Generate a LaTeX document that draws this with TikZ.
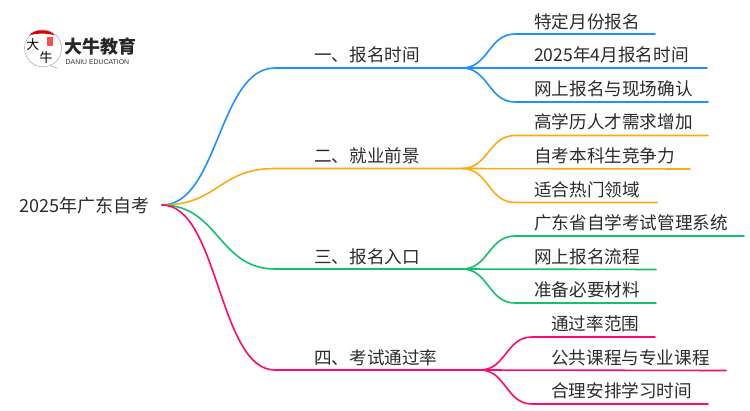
\documentclass[tikz,border=0pt]{standalone}
\usepackage{fontspec}
\setmainfont{Noto Sans CJK SC}
\newfontfamily\latinlogo{Liberation Sans}
\usetikzlibrary{calc}
\definecolor{cblue}{HTML}{1E90FF}
\definecolor{corange}{HTML}{FAAB14}
\definecolor{cgreen}{HTML}{14C06E}
\definecolor{cpink}{HTML}{FF0A6C}
\definecolor{ctext}{HTML}{2B2B2B}
\tikzset{
  lbl/.style={anchor=base west,inner sep=0pt,text=ctext,font=\fontsize{17.6pt}{20pt}\selectfont},
  rootlbl/.style={lbl,font=\fontsize{18pt}{20pt}\selectfont},
  conn/.style={line width=1.6pt,line cap=round},
  logotxt/.style={inner sep=0pt,text=black,font=\fontsize{13pt}{13pt}\selectfont},
  cur/.style={to path={.. controls ($(\tikztostart)!0.5!(\tikztostart -| \tikztotarget)$) and ($(\tikztotarget)!0.5!(\tikztotarget -| \tikztostart)$) .. (\tikztotarget)}}
}
\begin{document}
\begin{tikzpicture}[x=1pt,y=-1pt]
\useasboundingbox (0,0) rectangle (750,410);
% logo
\fill[white,draw=black!35,line width=.5pt] (57.5,68.5) -- (50,65.5) arc[start angle=68,end angle=-292,radius=18.5] -- cycle;
\fill[red!85!black] (29,35.5) .. controls (34,28.5) and (50,28.5) .. (55,35.5) .. controls (48,33) and (36,33) .. cycle;
\node[logotxt] (logoa) at (33,44.5) {大};
\node[logotxt] (logob) at (46,58) {牛};
\fill[red!70!white] (47,37) rectangle (53,46);
\node[anchor=base west,inner sep=0pt,text=black!85,font=\fontsize{18pt}{18pt}\selectfont\bfseries] (logoc) at (64,53.5) {大牛教育};
\node[anchor=base west,inner sep=0pt,text=black!80,font=\fontsize{6.9pt}{7pt}\latinlogo] (logod) at (65.5,64) {DANIU EDUCATION};
% texts
\node[rootlbl] (root) at (19,212) {2025年广东自考};
\node[lbl] (t1) at (314,61) {一、报名时间};
\node[lbl] (t2) at (314,162) {二、就业前景};
\node[lbl] (t3) at (314,263) {三、报名入口};
\node[lbl] (t4) at (314,364) {四、考试通过率};
\node[lbl] (a1) at (534,28) {特定月份报名};
\node[lbl] (a2) at (534,61) {2025年4月报名时间};
\node[lbl] (a3) at (534,95) {网上报名与现场确认};
\node[lbl] (b1) at (534,128) {高学历人才需求增加};
\node[lbl] (b2) at (534,162) {自考本科生竞争力};
\node[lbl] (b3) at (534,196) {适合热门领域};
\node[lbl] (c1) at (534,229) {广东省自学考试管理系统};
\node[lbl] (c2) at (534,263) {网上报名流程};
\node[lbl] (c3) at (534,296) {准备必要材料};
\node[lbl] (d1) at (551,330) {通过率范围};
\node[lbl] (d2) at (551,364) {公共课程与专业课程};
\node[lbl] (d3) at (551,397) {合理安排学习时间};
% anchors
\coordinate (r) at (162,205);
\coordinate (p1) at (275,68); \coordinate (q1) at (462,68);
\coordinate (p2) at (275,168.5); \coordinate (q2) at (462,168.5);
\coordinate (p3) at (275,269); \coordinate (q3) at (462,269);
\coordinate (p4) at (275,370); \coordinate (q4) at (480,370);
\coordinate (a1s) at (515,34); \coordinate (a1e) at (655,34);
\coordinate (a2e) at (707,68);
\coordinate (a3s) at (515,102); \coordinate (a3e) at (708,102);
\coordinate (b1s) at (515,135.5); \coordinate (b1e) at (708,135.5);
\coordinate (b2e) at (690,169);
\coordinate (b3s) at (515,202.5); \coordinate (b3e) at (657,202.5);
\coordinate (c1s) at (515,236); \coordinate (c1e) at (744,236);
\coordinate (c2e) at (656,269.5);
\coordinate (c3s) at (515,303); \coordinate (c3e) at (656,303);
\coordinate (d1s) at (532,337); \coordinate (d1e) at (655,337);
\coordinate (d2e) at (726,370.5);
\coordinate (d3s) at (532,404); \coordinate (d3e) at (708,404);
% connectors
\draw[conn,cblue] (r) to[cur] (p1) -- (q1);
\draw[conn,cblue] (q1) to[cur] (a1s) -- (a1e);
\draw[conn,cblue] (q1) -- (a2e);
\draw[conn,cblue] (q1) to[cur] (a3s) -- (a3e);
\draw[conn,corange] (r) to[cur] (p2) -- (q2);
\draw[conn,corange] (q2) to[cur] (b1s) -- (b1e);
\draw[conn,corange] (q2) -- (b2e);
\draw[conn,corange] (q2) to[cur] (b3s) -- (b3e);
\draw[conn,cgreen] (r) to[cur] (p3) -- (q3);
\draw[conn,cgreen] (q3) to[cur] (c1s) -- (c1e);
\draw[conn,cgreen] (q3) -- (c2e);
\draw[conn,cgreen] (q3) to[cur] (c3s) -- (c3e);
\draw[conn,cpink] (r) to[cur] (p4) -- (q4);
\draw[conn,cpink] (q4) to[cur] (d1s) -- (d1e);
\draw[conn,cpink] (q4) -- (d2e);
\draw[conn,cpink] (q4) to[cur] (d3s) -- (d3e);
\end{tikzpicture}
\end{document}
